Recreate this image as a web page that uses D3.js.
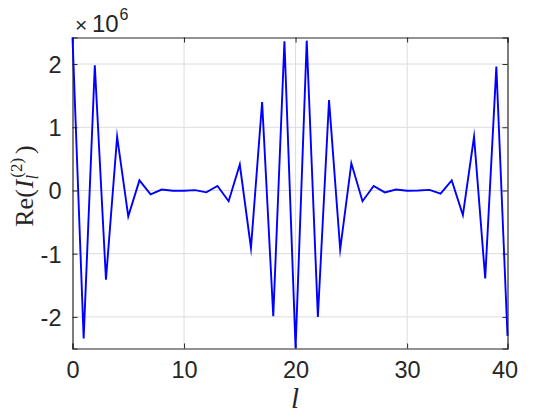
<!DOCTYPE html>
<html><head><meta charset="utf-8">
<script src="https://cdn.jsdelivr.net/npm/d3@7"></script>
<style>body{margin:0;background:#fff}</style>
</head><body>
<svg id="c" width="560" height="420"></svg>
<script>
// Re(I_l^(2)) values, in units of 1e6, for l = 0 .. 39
const values = [2.42,-2.34,1.98,-1.41,0.85,-0.41,0.16,-0.06,0.015,-0.005,
                -0.005,0.005,-0.03,0.07,-0.17,0.41,-0.91,1.40,-1.99,2.36,
                -2.50,2.37,-2.00,1.43,-0.93,0.43,-0.17,0.07,-0.03,0.015,
                -0.005,0.0,0.01,-0.05,0.16,-0.39,0.85,-1.39,1.96,-2.30];
const xTickValues = [0,10,20,30,39];
const xTickLabels = ["0","10","20","30","40"];
const yTickValues = [-2,-1,0,1,2];
const yTickLabels = ["-2","-1","0","1","2"];
const xDomain = [0,39];
const yDomain = [-2.5,2.42];

const svg = d3.select("#c");
const L=72.5,R=507.5,T=37.5,B=348.5;
const x = d3.scaleLinear().domain(xDomain).range([L,R]);
const y = d3.scaleLinear().domain(yDomain).range([B,T]);
const axisCol="#262626";
const tickFont="'Liberation Sans', Arial, sans-serif";

// grid
const g = svg.append("g");
xTickValues.slice(1,-1).forEach(v=>{
  g.append("line").attr("x1",x(v)).attr("x2",x(v)).attr("y1",T).attr("y2",B)
   .attr("stroke","#dcdcdc").attr("stroke-width",1);
});
yTickValues.forEach(v=>{
  g.append("line").attr("x1",L).attr("x2",R).attr("y1",y(v)).attr("y2",y(v))
   .attr("stroke","#dcdcdc").attr("stroke-width",1);
});

// axes with inward ticks
const xb = svg.append("g").attr("transform",`translate(0,${B})`)
  .call(d3.axisBottom(x).tickValues(xTickValues).tickSize(-5).tickPadding(13)
        .tickFormat((d,i)=>xTickLabels[i]));
const xt = svg.append("g").attr("transform",`translate(0,${T})`)
  .call(d3.axisTop(x).tickValues(xTickValues).tickSize(-5).tickFormat(""));
const yl = svg.append("g").attr("transform",`translate(${L},0)`)
  .call(d3.axisLeft(y).tickValues(yTickValues).tickSize(-5).tickPadding(11)
        .tickFormat((d,i)=>yTickLabels[i]));
const yr = svg.append("g").attr("transform",`translate(${R},0)`)
  .call(d3.axisRight(y).tickValues(yTickValues).tickSize(-5).tickFormat(""));
[xb,xt,yl,yr].forEach(a=>{
  a.attr("font-size",23.5).attr("font-family",tickFont);
  a.selectAll("path").attr("stroke",axisCol).attr("stroke-width",1.2);
  a.selectAll("line").attr("stroke",axisCol).attr("stroke-width",1);
  a.selectAll("text").attr("fill",axisCol);
});
xb.selectAll(".tick").filter(d=>d===39).select("text").attr("dx",-3);
xb.selectAll(".tick").filter(d=>d===39).select("line").remove();
yl.selectAll("text").attr("dy","0.36em");

// line
svg.append("path").datum(values)
  .attr("fill","none").attr("stroke","#0000ff").attr("stroke-width",1.9)
  .attr("stroke-linejoin","miter").attr("stroke-miterlimit",10)
  .attr("d", d3.line().x((d,i)=>x(i)).y(d=>y(d)));

// exponent label
const exG = svg.append("g").attr("fill",axisCol).attr("font-family",tickFont);
exG.append("text").attr("x",75).attr("y",32).attr("font-size",21).text("×");
exG.append("text").attr("x",92).attr("y",32).attr("font-size",24).text("10");
exG.append("text").attr("x",119.5).attr("y",20).attr("font-size",16).text("6");

// axis labels (serif, LaTeX-like)
svg.append("text").attr("x",295).attr("y",408).attr("text-anchor","middle")
  .attr("font-family","'Liberation Serif',serif").attr("font-style","italic")
  .attr("font-size",29).attr("fill",axisCol).text("l");

const yt = svg.append("text").attr("transform","translate(33,186) rotate(-90)")
  .attr("text-anchor","middle").attr("fill",axisCol)
  .attr("font-family","'Liberation Serif',serif").attr("font-size",26);
yt.append("tspan").text("Re(");
yt.append("tspan").text("I").attr("font-style","italic").attr("dx",1);
yt.append("tspan").text("l").attr("font-style","italic").attr("font-size",17).attr("dy",5).attr("dx",0);
yt.append("tspan").text("(2)").attr("font-size",17).attr("dy",-16).attr("dx",-3);
yt.append("tspan").text(")").attr("dy",11).attr("dx",4);
</script>
</body></html>
